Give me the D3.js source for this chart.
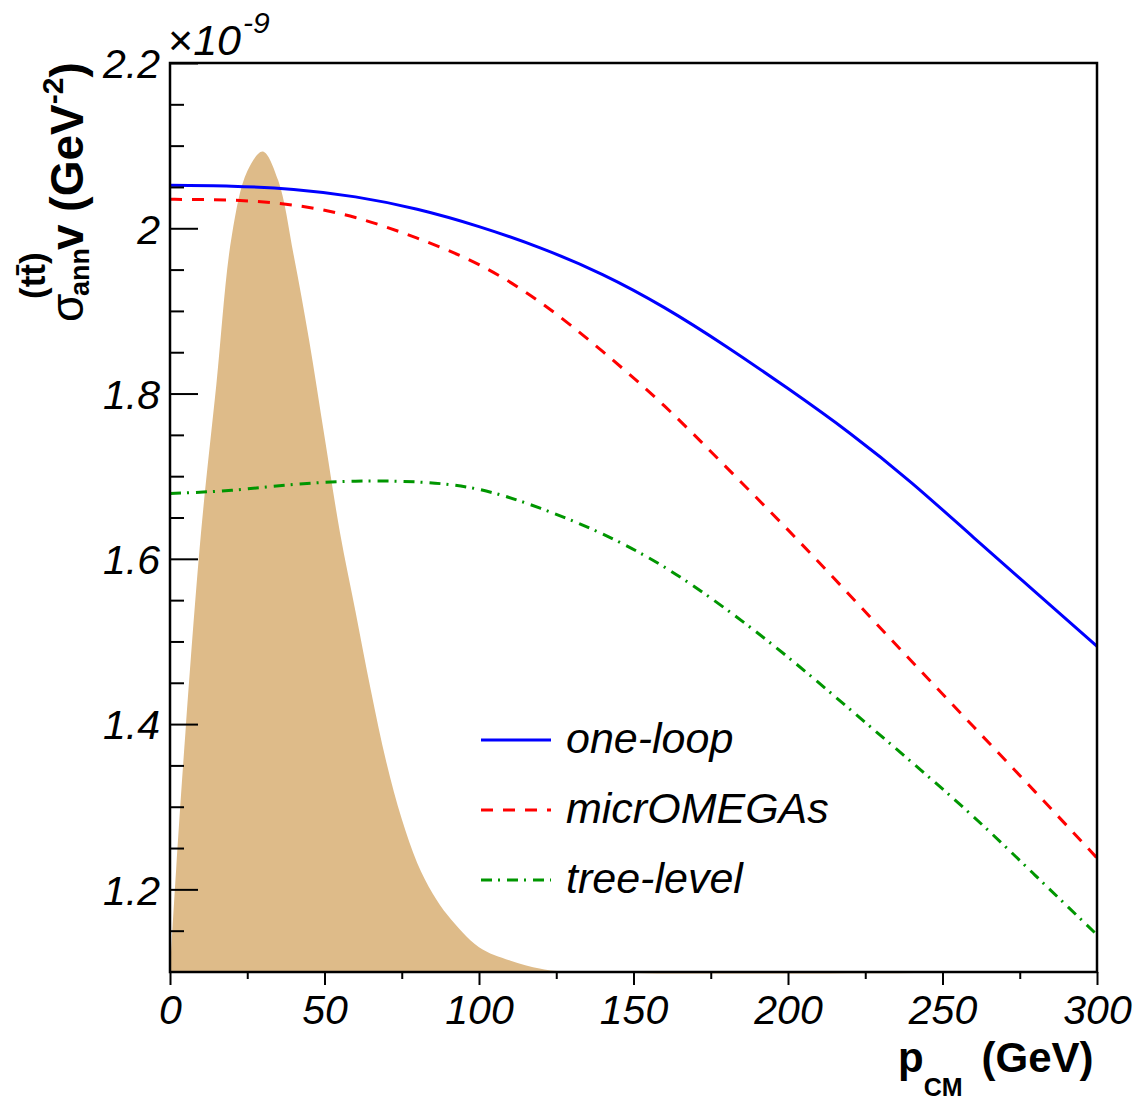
<!DOCTYPE html>
<html>
<head>
<meta charset="utf-8">
<script src="https://cdn.jsdelivr.net/npm/d3@7"></script>
<style>
    body { margin: 0; background: #fff; }
    text { font-family: "Liberation Sans", Arial, Helvetica, sans-serif; }
</style>
</head>
<body>
<svg id="chart"></svg>
<script>
// p_CM grid (GeV) and the three cross sections (x 1e-9 GeV^-2)
const p_cm = [0, 20, 40, 60, 80, 100, 120, 140, 160, 180, 200, 220, 240, 260, 280, 300];
const one_loop   = [2.052, 2.051, 2.047, 2.038, 2.023, 2.002, 1.976, 1.944, 1.904, 1.857, 1.806, 1.752, 1.692, 1.626, 1.560, 1.494];
const micromegas = [2.035, 2.034, 2.028, 2.013, 1.988, 1.956, 1.910, 1.851, 1.785, 1.711, 1.635, 1.556, 1.476, 1.397, 1.318, 1.238];
const tree_level = [1.679, 1.683, 1.690, 1.694, 1.693, 1.684, 1.661, 1.630, 1.590, 1.539, 1.481, 1.418, 1.354, 1.288, 1.217, 1.145];

// momentum distribution (shaded), drawn in the plot's own units
const dist_p   = [0, 2, 5, 10, 15, 20, 25, 30, 35, 40, 45, 50, 55, 60, 65, 70, 75, 80, 85, 90, 100, 110, 120, 130, 300];
const dist_val = [1.100, 1.225, 1.390, 1.630, 1.811, 1.991, 2.069, 2.093, 2.058, 1.968, 1.865, 1.748, 1.632, 1.537, 1.441, 1.354, 1.285, 1.232, 1.195, 1.168, 1.130, 1.114, 1.104, 1.100, 1.100];

const x_ticks = [0, 50, 100, 150, 200, 250, 300];
const x_minor = [25, 75, 125, 175, 225, 275];
const y_ticks = [1.2, 1.4, 1.6, 1.8, 2.0, 2.2];
const y_minor = [1.15, 1.25, 1.3, 1.35, 1.45, 1.5, 1.55, 1.65, 1.7, 1.75, 1.85, 1.9, 1.95, 2.05, 2.1, 2.15];

const legend_labels = ['one-loop', 'micrOMEGAs', 'tree-level'];

class XsecChart {
    constructor(config) {
        this.config = {
            parent: config.parent,
            width: config.width || 1138,
            height: config.height || 1100,
            margin: config.margin || {top: 63, right: 41, bottom: 128, left: 170}
        };
        this.init();
    }

    init() {
        let self = this;
        const m = self.config.margin;

        self.svg = d3.select(self.config.parent)
            .attr('width', self.config.width)
            .attr('height', self.config.height);

        self.inner_width = self.config.width - m.left - m.right;
        self.inner_height = self.config.height - m.top - m.bottom;

        self.xscale = d3.scaleLinear()
            .domain([0, 300])
            .range([m.left, m.left + self.inner_width]);

        self.yscale = d3.scaleLinear()
            .domain([1.1, 2.2])
            .range([m.top + self.inner_height, m.top]);

        self.chart = self.svg.append('g');
    }

    render() {
        let self = this;
        const x = self.xscale, y = self.yscale;
        const m = self.config.margin;
        const bottom = m.top + self.inner_height;

        // shaded distribution
        const area = d3.area()
            .x((d, i) => x(dist_p[i]))
            .y0(y(1.1))
            .y1(d => y(d))
            .curve(d3.curveCatmullRom.alpha(0.5));

        self.chart.append('path')
            .datum(dist_val)
            .attr('d', area)
            .attr('fill', '#debb89');

        // curves
        const series = [
            {values: one_loop,   color: '#0000ff', dash: null},
            {values: micromegas, color: '#ff0000', dash: '12,10'},
            {values: tree_level, color: '#009600', dash: '11,6,2,7'}
        ];

        const line = d3.line()
            .x((d, i) => x(p_cm[i]))
            .y(d => y(d))
            .curve(d3.curveNatural);

        self.chart.selectAll('.curve')
            .data(series)
            .join('path')
            .attr('class', 'curve')
            .attr('d', d => line(d.values))
            .attr('fill', 'none')
            .attr('stroke', d => d.color)
            .attr('stroke-width', 3)
            .attr('stroke-dasharray', d => d.dash);

        // legend
        const leg = self.chart.append('g');
        series.forEach((s, i) => {
            const ly = 740 + i * 70;
            leg.append('line')
                .attr('x1', 481).attr('x2', 551)
                .attr('y1', ly).attr('y2', ly)
                .attr('stroke', s.color)
                .attr('stroke-width', 3)
                .attr('stroke-dasharray', s.dash);
            leg.append('text')
                .attr('x', 566)
                .attr('y', ly + 13)
                .style('font-size', '43px')
                .style('font-style', 'italic')
                .text(legend_labels[i]);
        });

        // frame
        self.chart.append('rect')
            .attr('x', m.left).attr('y', m.top)
            .attr('width', self.inner_width).attr('height', self.inner_height)
            .attr('fill', 'none')
            .attr('stroke', 'black')
            .attr('stroke-width', 2.5);

        // y axis
        const yaxis = self.svg.append('g')
            .attr('transform', `translate(${m.left},0)`)
            .call(d3.axisLeft(y).tickValues(y_ticks).tickSize(-28).tickPadding(10)
                .tickFormat(d3.format('~g')));
        self.svg.append('g')
            .attr('transform', `translate(${m.left},0)`)
            .call(d3.axisLeft(y).tickValues(y_minor).tickSize(-14).tickFormat(''));

        // x axis
        self.svg.append('g')
            .attr('transform', `translate(0,${bottom})`)
            .call(d3.axisBottom(x).tickValues(x_ticks).tickSize(13).tickPadding(10)
                .tickFormat(d3.format('~g')));
        self.svg.append('g')
            .attr('transform', `translate(0,${bottom})`)
            .call(d3.axisBottom(x).tickValues(x_minor).tickSize(7).tickFormat(''));

        self.svg.selectAll('.domain').remove();
        self.svg.selectAll('.tick line').attr('stroke', 'black').attr('stroke-width', 2);
        self.svg.selectAll('.tick text')
            .style('font-size', '41px')
            .style('font-style', 'italic')
            .style('font-family', '"Liberation Sans", Arial, sans-serif')
            .attr('fill', 'black');
        yaxis.selectAll('.tick text').attr('dy', '0.36em');

        // exponent
        const expo = self.svg.append('text')
            .attr('x', 168).attr('y', 55)
            .style('font-size', '43px');
        expo.append('tspan').text('\u00d7');
        expo.append('tspan').style('font-style', 'italic').text('10');
        expo.append('tspan').style('font-style', 'italic').style('font-size', '30px')
            .attr('dy', -22).attr('dx', 2).text('-9');

        // x title
        const xt = self.svg.append('text')
            .attr('x', 898).attr('y', 1072)
            .style('font-weight', 'bold')
            .style('font-size', '42px');
        xt.append('tspan').text('p');
        xt.append('tspan').style('font-size', '25px').attr('dy', 24).text('CM');
        xt.append('tspan').attr('dy', -24).attr('dx', 19).text('(GeV)');

        // y title (rotated)
        const yt = self.svg.append('g')
            .attr('transform', 'translate(83,0) rotate(-90)');
        yt.append('text')
            .attr('x', -322).attr('y', 0)
            .style('font-size', '46px')
            .text('\u03c3');
        yt.append('text')
            .attr('x', -299).attr('y', -38)
            .style('font-size', '35px').style('font-weight', 'bold')
            .text('(tt\u0304)');
        yt.append('text')
            .attr('x', -296).attr('y', 6)
            .style('font-size', '27px').style('font-weight', 'bold')
            .text('ann');
        const yr = yt.append('text')
            .attr('x', -250).attr('y', 0)
            .style('font-size', '46px').style('font-weight', 'bold');
        yr.append('tspan').text('v (GeV');
        yr.append('tspan').style('font-size', '30px').attr('dy', -20).text('-2');
        yr.append('tspan').attr('dy', 20).text(')');
    }
}

const chart = new XsecChart({parent: '#chart', width: 1138, height: 1100});
chart.render();
</script>
</body>
</html>
